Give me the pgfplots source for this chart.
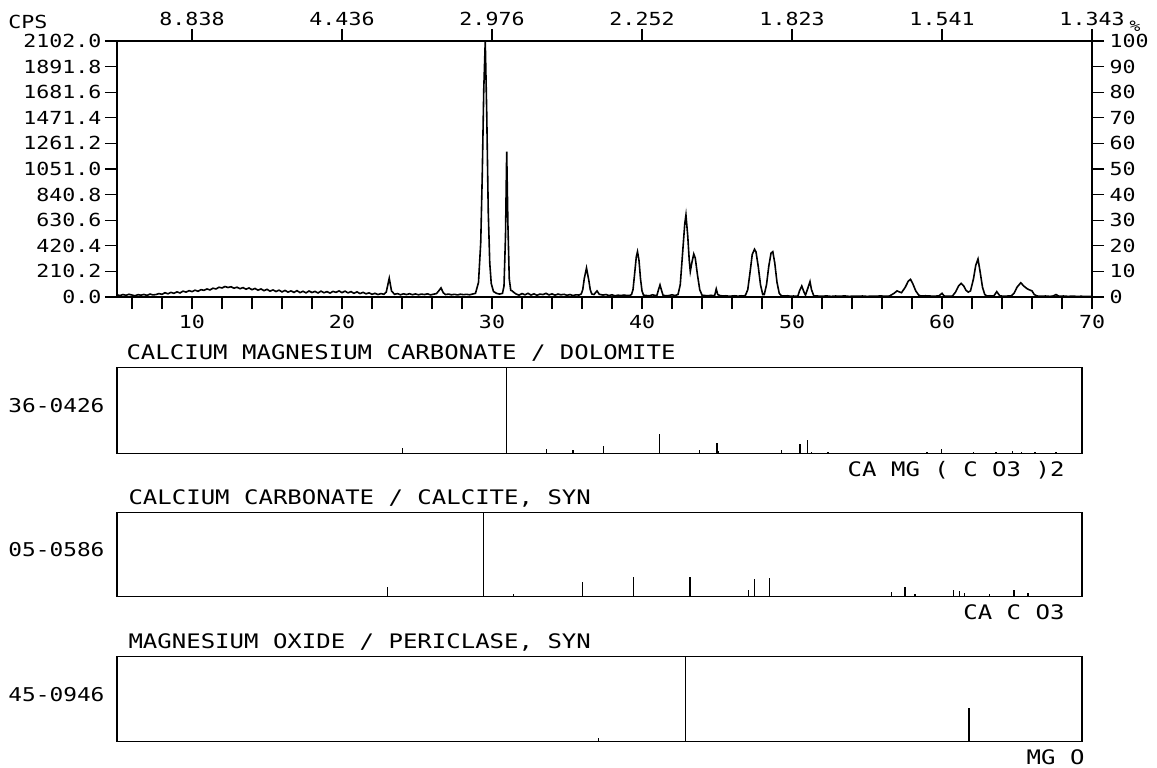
\documentclass[border=0pt]{standalone}
\usepackage{fontspec}
\setmonofont[FakeStretch=1.2]{DejaVu Sans Mono}
\usepackage{pgfplots}
\usepackage{pgfplotstable}
\pgfplotsset{compat=1.18}
\newcommand\pf[1]{\fontsize{#1}{#1}\selectfont\ttfamily}

% diffractogram, CPS vs 2theta
\pgfplotstableread{
x y
5.0 18
5.2 12
5.4 20
5.6 14
5.8 22
6.0 16
6.2 10
6.4 19
6.6 15
6.8 21
7.0 13
7.2 24
7.4 17
7.6 20
7.8 28
8.0 22
8.2 35
8.4 26
8.6 38
8.8 30
9.0 42
9.2 33
9.4 48
9.6 40
9.8 52
10.0 44
10.2 56
10.4 47
10.6 60
10.8 55
11.0 66
11.2 58
11.4 72
11.6 66
11.8 80
12.0 74
12.2 86
12.4 78
12.6 84
12.8 72
13.0 80
13.2 68
13.4 77
13.6 64
13.8 74
14.0 60
14.2 70
14.4 56
14.6 66
14.8 52
15.0 63
15.2 48
15.4 58
15.6 45
15.8 56
16.0 42
16.2 54
16.4 40
16.6 50
16.8 38
17.0 52
17.2 36
17.4 47
17.6 34
17.8 49
18.0 37
18.2 46
18.4 33
18.6 48
18.8 35
19.0 44
19.2 32
19.4 46
19.6 38
19.8 50
20.0 36
20.2 48
20.4 34
20.6 44
20.8 30
21.0 42
21.2 28
21.4 38
21.6 26
21.8 34
22.0 22
22.2 30
22.4 20
22.6 28
22.8 22
22.95 40
23.15 154
23.3 50
23.5 22
23.7 28
23.9 18
24.1 26
24.3 20
24.5 27
24.7 19
24.9 25
25.1 18
25.3 24
25.5 20
25.7 26
25.9 17
26.1 23
26.3 28
26.45 50
26.6 75
26.75 35
26.9 20
27.1 24
27.3 18
27.5 22
27.7 17
27.9 23
28.1 19
28.3 22
28.5 18
28.7 24
28.9 30
29.1 120
29.25 450
29.35 1000
29.45 1700
29.55 2102
29.65 1500
29.75 700
29.85 280
29.95 110
30.1 45
30.3 30
30.5 24
30.7 30
30.8 90
30.9 500
30.98 1193
31.06 600
31.15 150
31.25 55
31.35 50
31.45 38
31.6 25
31.8 15
32.0 28
32.2 18
32.4 30
32.6 16
32.8 26
33.0 14
33.2 24
33.4 20
33.6 30
33.8 17
34.0 26
34.2 15
34.4 24
34.6 18
34.8 22
35.0 14
35.2 20
35.4 12
35.6 18
35.8 16
35.95 25
36.05 60
36.15 150
36.3 238
36.45 140
36.55 60
36.65 25
36.8 20
37.0 50
37.15 22
37.4 16
37.6 20
37.8 12
38.0 18
38.2 10
38.4 15
38.6 12
38.8 16
39.0 12
39.2 14
39.3 20
39.4 60
39.5 180
39.62 330
39.7 372
39.8 300
39.9 150
40.0 50
40.1 15
40.3 12
40.5 10
40.7 18
40.9 12
41.0 15
41.1 60
41.2 99
41.3 55
41.4 15
41.6 10
41.8 12
42.0 18
42.2 12
42.4 20
42.55 100
42.7 350
42.85 600
42.93 673
43.05 500
43.15 300
43.22 210
43.32 280
43.45 353
43.55 320
43.7 180
43.85 60
44.0 15
44.2 12
44.4 10
44.6 14
44.75 10
44.85 15
44.95 66
45.05 20
45.2 12
45.4 8
45.6 10
45.8 6
46.0 8
46.2 10
46.4 6
46.6 10
46.8 8
46.9 15
47.05 60
47.2 200
47.35 350
47.5 392
47.6 370
47.75 250
47.9 100
48.05 20
48.15 20
48.3 100
48.45 250
48.6 360
48.72 372
48.85 280
49.0 120
49.15 30
49.3 10
49.5 8
49.7 10
49.9 6
50.1 8
50.3 6
50.4 10
50.5 50
50.65 90
50.8 40
50.9 15
51.05 70
51.2 126
51.3 60
51.45 10
51.7 8
52.0 6
52.3 9
52.6 5
52.9 8
53.2 6
53.5 9
53.8 5
54.1 7
54.4 6
54.7 8
55.0 5
55.3 7
55.6 6
55.9 9
56.2 6
56.5 8
56.8 30
57.0 50
57.15 42
57.3 35
57.55 80
57.75 130
57.9 145
58.05 110
58.25 50
58.45 15
58.6 8
58.9 10
59.2 8
59.5 6
59.8 10
60.0 30
60.15 8
60.4 6
60.7 8
60.9 40
61.1 90
61.27 112
61.45 90
61.6 55
61.75 40
61.9 50
62.1 150
62.25 260
62.4 312
62.55 200
62.7 80
62.85 20
63.0 8
63.2 10
63.45 8
63.65 44
63.85 10
64.1 6
64.4 8
64.6 8
64.8 30
65.0 80
65.25 117
65.45 90
65.65 70
65.8 60
66.0 50
66.15 20
66.35 8
66.6 6
66.9 8
67.2 5
67.4 8
67.6 20
67.8 6
68.1 8
68.4 5
68.7 7
69.0 5
69.3 6
69.6 4
70.0 5
}\scan

% reference patterns (2theta, relative intensity)
\pgfplotstableread{
x y
24.05 6
30.97 100
33.62 4.5
35.40 4
37.45 8.5
41.17 22
43.85 4
45.00 12
45.10 3
49.30 3.5
50.53 11
51.04 15
51.30 2
52.40 1.5
59.00 2
59.97 4.5
62.10 1.5
63.60 2
64.70 2.5
65.30 1.5
66.20 1.5
67.60 2
}\dolomite

\pgfplotstableread{
x y
23.02 12
29.45 100
31.43 3.7
36.02 17
39.42 23
43.19 23
47.12 7.5
47.49 21
48.49 22
56.63 5.5
57.53 11.6
58.19 3.7
60.75 8
61.14 6.5
61.49 4.6
63.17 3.3
64.80 7.4
65.73 4.7
}\calcite

\pgfplotstableread{
x y
37.09 4
42.90 100
61.80 40
}\periclase

\pgfplotsset{
  plotter/.style={
    scale only axis, clip=false,
    axis line style={line width=1.4pt},
    tick label style={font=\pf{18}},
    tick align=outside,
    major tick length=12pt,
    major tick style={black, line width=1.3pt},
  },
  panel/.style={
    scale only axis, clip=false,
    width=965pt,
    xmin=5, xmax=69.33, ymin=0, ymax=100,
    xtick=\empty, ytick=\empty,
    axis line style={line width=1.4pt},
  },
}

\begin{document}
\begin{tikzpicture}
\useasboundingbox (0,0) rectangle (1157pt,768pt);

% main scan: bottom 2theta, left CPS
\begin{axis}[plotter,
  at={(117pt,471pt)}, anchor=south west,
  width=975pt, height=256pt,
  xmin=5, xmax=70, ymin=0, ymax=2102,
  xtick={6,8,...,70},
  xticklabels={,,10,,,,,20,,,,,30,,,,,40,,,,,50,,,,,60,,,,,70},
  xtick pos=left, ytick pos=left,
  ytick={0,210.2,420.4,630.6,840.8,1051,1261.2,1471.4,1681.6,1891.8,2102},
  yticklabels={0.0,210.2,420.4,630.6,840.8,1051.0,1261.2,1471.4,1681.6,1891.8,2102.0},
  xticklabel style={yshift=-3pt},
]
\addplot[black, line width=1.6pt, mark=none] table {\scan};
\node[font=\pf{18}] at (rel axis cs:0,1) [xshift=-89pt, yshift=19pt] {CPS};
\end{axis}

% top d-spacing and right percent scale
\begin{axis}[plotter,
  at={(117pt,471pt)}, anchor=south west,
  width=975pt, height=256pt,
  xmin=5, xmax=70, ymin=0, ymax=100,
  axis x line*=top, axis y line*=right,
  tick align=outside,
  xtick={10,20,...,70},
  xticklabels={8.838,4.436,2.976,2.252,1.823,1.541,1.343},
  ytick={0,10,...,100},
  yticklabels={0,10,20,30,40,50,60,70,80,90,100},
  yticklabel style={xshift=2pt},
]
\node[font=\pf{15}] at (rel axis cs:1,1) [xshift=43pt, yshift=15pt] {\%};
\end{axis}

% dolomite
\begin{axis}[panel, at={(117pt,314.7pt)}, anchor=south west, height=85.6pt]
\addplot[ycomb, black, line width=1.3pt, mark=none] table {\dolomite};
\node[font=\pf{20}, anchor=base west] at (rel axis cs:0,1) [xshift=6pt, yshift=8pt] {CALCIUM MAGNESIUM CARBONATE / DOLOMITE};
\node[font=\pf{19}, anchor=east] at (rel axis cs:0,0.5) [xshift=-9pt, yshift=5pt] {36-0426};
\node[font=\pf{20}, anchor=north east] at (rel axis cs:1,0) [xshift=-14pt, yshift=-4pt] {CA MG ( C O3 )2};
\end{axis}

% calcite
\begin{axis}[panel, at={(117pt,171.3pt)}, anchor=south west, height=84pt]
\addplot[ycomb, black, line width=1.3pt, mark=none] table {\calcite};
\node[font=\pf{20}, anchor=base west] at (rel axis cs:0,1) [xshift=8pt, yshift=8pt] {CALCIUM CARBONATE / CALCITE, SYN};
\node[font=\pf{19}, anchor=east] at (rel axis cs:0,0.5) [xshift=-9pt, yshift=5pt] {05-0586};
\node[font=\pf{20}, anchor=north east] at (rel axis cs:1,0) [xshift=-14pt, yshift=-4pt] {CA C O3};
\end{axis}

% periclase
\begin{axis}[panel, at={(117pt,26.3pt)}, anchor=south west, height=85pt]
\addplot[ycomb, black, line width=1.3pt, mark=none] table {\periclase};
\node[font=\pf{20}, anchor=base west] at (rel axis cs:0,1) [xshift=8pt, yshift=8pt] {MAGNESIUM OXIDE / PERICLASE, SYN};
\node[font=\pf{19}, anchor=east] at (rel axis cs:0,0.5) [xshift=-9pt, yshift=5pt] {45-0946};
\node[font=\pf{20}, anchor=north east] at (rel axis cs:1,0) [xshift=6pt, yshift=-4pt] {MG O};
\end{axis}
\end{tikzpicture}
\end{document}
